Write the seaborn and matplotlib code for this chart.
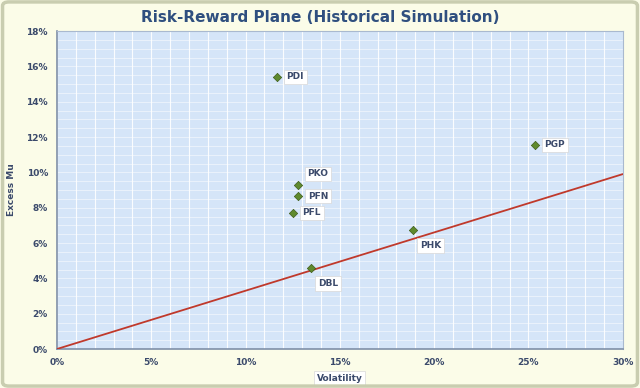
import matplotlib
matplotlib.use("Agg")
import matplotlib.pyplot as plt
import seaborn as sns
import pandas as pd
import numpy as np
from matplotlib.ticker import MultipleLocator, FuncFormatter
from matplotlib.patches import FancyBboxPatch

tickers = ["PDI", "PGP", "PKO", "PFN", "PFL", "PHK", "DBL"]
volatility = [11.66, 25.33, 12.77, 12.80, 12.50, 18.87, 13.46]
excess_mu = [15.40, 11.55, 9.28, 8.66, 7.70, 6.73, 4.58]
line_x = [0.0, 30.0]
line_y = [0.0, 9.9]
label_offsets = {"PDI": (7, 0), "PGP": (7, 0), "PKO": (7, 8), "PFN": (7, 0),
                 "PFL": (7, 0), "PHK": (5, -11), "DBL": (5, -11)}

df = pd.DataFrame({"ticker": tickers, "vol": volatility, "mu": excess_mu})

sns.set_theme(style="white")
plt.rcParams['font.family'] = ['DejaVu Sans']

fig = plt.figure(figsize=(6.4, 3.88), dpi=100, facecolor="#fbfce8")
ax = fig.add_axes([0.089, 0.1005, 0.884, 0.8195])
ax.set_facecolor("#d5e5f8")

fig.patches.append(FancyBboxPatch((0.004, 0.005), 0.992, 0.99, boxstyle="round,pad=0,rounding_size=0.01",
                                  transform=fig.transFigure, fill=False, edgecolor="#c9cdb0", linewidth=2.5))

ax.set_xlim(0, 30)
ax.set_ylim(0, 18)
ax.xaxis.set_major_locator(MultipleLocator(5))
ax.yaxis.set_major_locator(MultipleLocator(2))
ax.xaxis.set_minor_locator(MultipleLocator(1))
ax.yaxis.set_minor_locator(MultipleLocator(0.5))
ax.grid(which="both", axis="x", color="white", linewidth=0.8, alpha=0.9)
ax.grid(which="both", axis="y", color="white", linewidth=0.5, alpha=0.7)
ax.set_axisbelow(True)
fmt = FuncFormatter(lambda v, p: f"{v:.0f}%")
ax.xaxis.set_major_formatter(fmt)
ax.yaxis.set_major_formatter(fmt)
ax.tick_params(axis="both", which="major", labelsize=6.5, colors="#3b4a6b", length=3, direction="out", width=0.6)
ax.tick_params(axis="both", which="minor", length=0)
for lab in ax.get_xticklabels() + ax.get_yticklabels():
    lab.set_fontweight("bold")
for s in ["top", "right"]:
    ax.spines[s].set_color("#a9b9cf")
    ax.spines[s].set_linewidth(0.8)
for s in ["left", "bottom"]:
    ax.spines[s].set_color("#7f8fa8")
    ax.spines[s].set_linewidth(1.2)

sns.lineplot(x=line_x, y=line_y, ax=ax, color="#c0392b", linewidth=1.3, zorder=3)
sns.scatterplot(data=df, x="vol", y="mu", ax=ax, marker="D", s=18, color="#5f8a2e",
                edgecolor="#3d5c1a", linewidth=0.5, zorder=4)

for t, x, y in zip(tickers, volatility, excess_mu):
    dx, dy = label_offsets[t]
    ax.annotate(t, (x, y), xytext=(dx, dy), textcoords="offset points",
                ha="left", va="center", fontsize=6.5, fontweight="bold", color="#3b4a6b",
                bbox=dict(boxstyle="square,pad=0.3", fc="white", ec="#d8d8d8", lw=0.5), zorder=5)

ax.set_xlabel("Volatility", fontsize=6.5, fontweight="bold", color="#3b4a6b",
              bbox=dict(boxstyle="square,pad=0.3", fc="white", ec="#d8d8d8", lw=0.5))
ax.xaxis.set_label_coords(0.5, -0.078)
ax.set_ylabel("Excess Mu", fontsize=6.5, fontweight="bold", color="#3b4a6b")
ax.yaxis.set_label_coords(-0.072, 0.5)
fig.text(0.5, 0.955, "Risk-Reward Plane (Historical Simulation)", ha="center", va="center",
         fontsize=11, fontweight="bold", color="#2f4f7f")

fig.savefig("out.png", dpi=100, facecolor=fig.get_facecolor())
